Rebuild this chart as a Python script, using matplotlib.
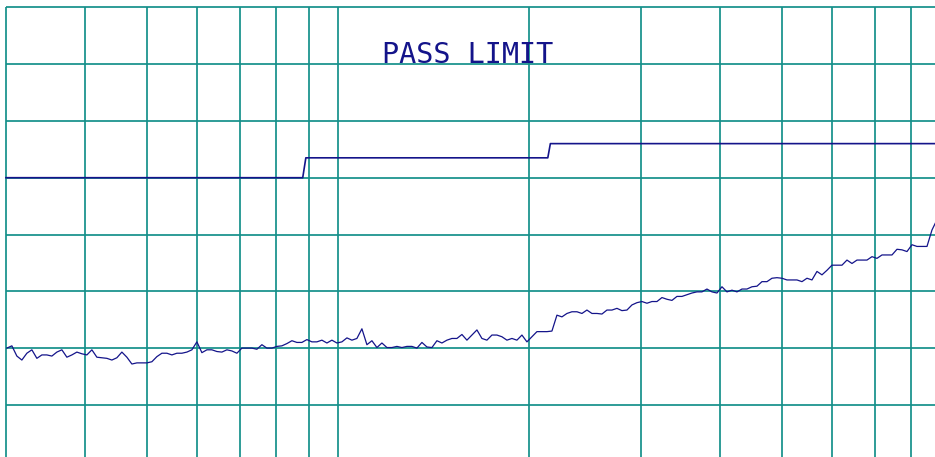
import numpy as np
import matplotlib
matplotlib.use("Agg")
import matplotlib.pyplot as plt

# ---- data ----
# FCC Class B style pass limit (MHz, dBuV/m)
limit_freq = [30, 88, 89, 214, 216, 1000]
limit_level = [40, 40, 43.5, 43.5, 46, 46]

sweep_start = 30.1
sweep_stop = 877.6
trace_level = [
    10.0, 10.4, 8.6, 7.9, 9.1, 9.7, 8.2, 8.8, 8.8, 8.6,
    9.3, 9.7, 8.4, 8.8, 9.3, 9.0, 8.8, 9.7, 8.4, 8.3,
    8.2, 7.9, 8.3, 9.3, 8.4, 7.2, 7.4, 7.4, 7.4, 7.6,
    8.5, 9.1, 9.1, 8.8, 9.1, 9.1, 9.3, 9.7, 11.1, 9.2,
    9.7, 9.7, 9.4, 9.3, 9.7, 9.5, 9.1, 10.0, 10.0, 10.0,
    9.8, 10.6, 10.0, 10.0, 10.3, 10.4, 10.8, 11.3, 11.0, 11.0,
    11.5, 11.1, 11.1, 11.4, 10.9, 11.4, 10.9, 11.1, 11.8, 11.4,
    11.7, 13.4, 10.6, 11.3, 10.1, 10.9, 10.1, 10.1, 10.3, 10.1,
    10.3, 10.3, 10.0, 11.0, 10.2, 10.1, 11.3, 10.9, 11.4, 11.7,
    11.7, 12.4, 11.4, 12.3, 13.2, 11.7, 11.4, 12.3, 12.3, 12.0,
    11.4, 11.7, 11.4, 12.3, 11.1, 12.0, 12.9, 12.9, 12.9, 13.0,
    15.8, 15.5, 16.1, 16.4, 16.4, 16.1, 16.7, 16.1, 16.1, 16.0,
    16.7, 16.7, 17.0, 16.6, 16.7, 17.6, 18.0, 18.2, 17.9, 18.2,
    18.2, 18.9, 18.6, 18.4, 19.1, 19.1, 19.4, 19.7, 19.9, 19.9,
    20.4, 19.9, 19.7, 20.8, 19.9, 20.2, 19.9, 20.4, 20.4, 20.8,
    20.9, 21.7, 21.7, 22.3, 22.4, 22.3, 22.0, 22.0, 22.0, 21.7,
    22.3, 22.0, 23.5, 22.9, 23.7, 24.6, 24.6, 24.6, 25.5, 24.9,
    25.5, 25.5, 25.5, 26.1, 25.8, 26.4, 26.4, 26.4, 27.4, 27.3,
    27.0, 28.2, 27.9, 27.9, 27.9, 30.8, 32.6,
]

x_grid = [30, 40, 50, 60, 70, 80, 90, 100, 200, 300, 400, 500, 600, 700, 800, 900]
y_grid = [0, 10, 20, 30, 40, 50, 60, 70]
label_text = "PASS LIMIT"

# ---- styles ----
grid_color = "#14908a"
navy = "#14148a"

fig = plt.figure(figsize=(9.35, 4.57), dpi=100, facecolor="white")
ax = fig.add_axes([0, 0, 1, 1])
ax.set_xscale("log")
xmin, xmax = 29.36, 871.3
ymin, ymax = -9.17, 71.285
ax.set_xlim(xmin, xmax)
ax.set_ylim(ymin, ymax)

ax.vlines(x_grid, ymin, max(y_grid), color=grid_color, lw=1.25, zorder=1)
ax.hlines(y_grid, min(x_grid), xmax * 1.05, color=grid_color, lw=1.25, zorder=1)

trace_freq = np.geomspace(sweep_start, sweep_stop, len(trace_level))
ax.plot(trace_freq, trace_level, color=navy, lw=0.9, zorder=3)
ax.plot(limit_freq, limit_level, color=navy, lw=1.2, zorder=3)

ax.text(0.5005, 0.8615, label_text, transform=ax.transAxes, ha="center",
        va="baseline", fontsize=20.5, family="DejaVu Sans Mono",
        color=navy, zorder=4)

for s in ax.spines.values():
    s.set_visible(False)
ax.set_xticks([])
ax.set_yticks([])
ax.minorticks_off()
ax.tick_params(which="both", length=0)
ax.patch.set_facecolor("white")

fig.savefig("out.png", dpi=100, facecolor="white")
